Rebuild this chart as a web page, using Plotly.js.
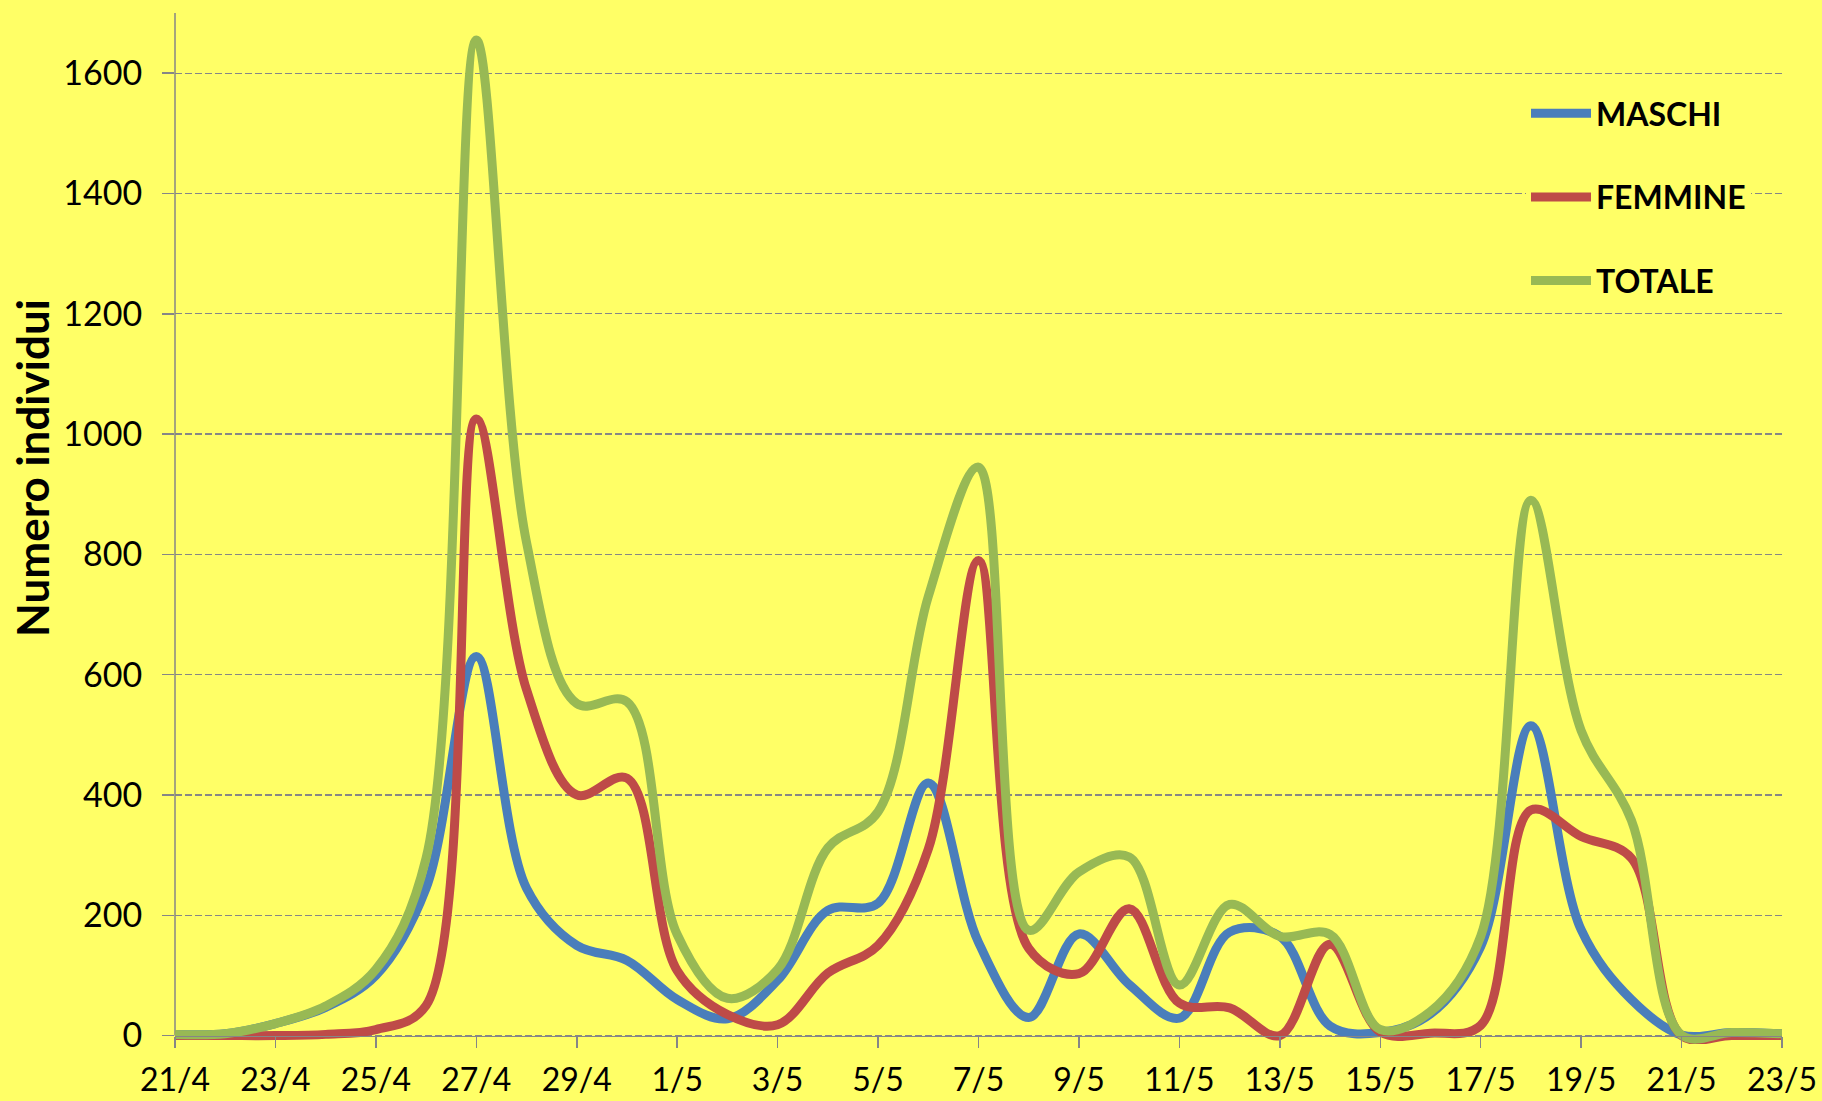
<!DOCTYPE html>
<html>
<head>
<meta charset="utf-8">
<script src="https://cdn.plot.ly/plotly-3.0.1.min.js"></script>
<style>
html,body{margin:0;padding:0;background:#FFFF66;}
#chart{width:1822px;height:1101px;}
</style>
</head>
<body>
<div id="chart"></div>
<script>
const dates = ['21/4','22/4','23/4','24/4','25/4','26/4','27/4','28/4','29/4','30/4',
  '1/5','2/5','3/5','4/5','5/5','6/5','7/5','8/5','9/5','10/5','11/5','12/5','13/5',
  '14/5','15/5','16/5','17/5','18/5','19/5','20/5','21/5','22/5','23/5'];
const maschi  = [2,3,20,47,100,245,630,245,150,125,60,28,92,208,220,420,155,30,169,85,29,172,165,16,5,36,148,515,176,60,1,5,3];
const femmine = [0,0,0,2,10,50,1025,575,400,428,108,35,18,104,150,310,790,145,103,211,54,46,0,152,6,4,17,375,331,295,0,0,0];
const totale  = [2,3,20,49,110,295,1655,820,552,555,168,62,110,312,372,730,945,175,272,297,84,218,165,168,10,40,165,890,507,358,1,5,3];
const seriesNames = ['MASCHI','FEMMINE','TOTALE'];
const seriesColors = ['#4A7EBB','#BE4B48','#98B954'];
const yTicks = [0,200,400,600,800,1000,1200,1400,1600];

const FONT = 'Lato, "Open Sans", "DejaVu Sans", sans-serif';
const axisColor = '#868686';
const yMin = -14, yMax = 1700;

const values = [maschi, femmine, totale];
const traces = values.map((v, i) => ({
  type: 'scatter',
  mode: 'lines',
  x: dates,
  y: v,
  name: seriesNames[i],
  legendgroup: 'g' + i,
  line: {color: seriesColors[i], width: 9, shape: 'spline', smoothing: 1},
  hoverinfo: 'x+y+name'
}));

const layout = {
  width: 1822,
  height: 1101,
  paper_bgcolor: '#FFFF66',
  plot_bgcolor: '#FFFF66',
  margin: {l: 175, r: 40, t: 13, b: 57},
  font: {family: FONT, size: 33, color: '#000000'},
  showlegend: true,
  legend: {
    x: 0.8407, y: 0.9292, xanchor: 'left', yanchor: 'top',
    bgcolor: '#FFFF66', borderwidth: 0,
    font: {family: FONT, size: 32, weight: 700, color: '#000000'},
    tracegroupgap: 39,
    itemwidth: 60,
    traceorder: 'grouped'
  },
  xaxis: {
    type: 'category',
    range: [0, dates.length - 1],
    tickmode: 'linear', tick0: 0, dtick: 2,
    showgrid: false,
    showline: true, linecolor: axisColor, linewidth: 1.5,
    ticks: 'outside', ticklen: 11, tickwidth: 1.5, tickcolor: axisColor,
    anchor: 'free', position: (0 - yMin) / (yMax - yMin),
    ticklabelstandoff: 5,
    tickfont: {family: FONT, size: 32, color: '#000000'},
    zeroline: false, fixedrange: true
  },
  yaxis: {
    range: [yMin, yMax],
    tickmode: 'array', tickvals: yTicks, ticktext: yTicks.map(String),
    showgrid: true, gridcolor: axisColor, gridwidth: 1.3, griddash: '7px,3px',
    showline: false,
    ticks: 'outside', ticklen: 12, tickwidth: 1.5, tickcolor: axisColor,
    ticklabelstandoff: 13,
    tickfont: {family: FONT, size: 34, color: '#000000'},
    zeroline: false, fixedrange: true
  },
  shapes: [{
    type: 'line', xref: 'paper', yref: 'y', x0: 0, x1: 0, y0: 0, y1: yMax,
    line: {color: axisColor, width: 1.5}, layer: 'below'
  }],
  annotations: [{
    text: 'Numero individui',
    xref: 'paper', yref: 'paper',
    x: (32 - 175) / 1607, y: 1 - (468 - 13) / 1031,
    xanchor: 'center', yanchor: 'middle',
    textangle: -90, showarrow: false,
    font: {family: FONT, size: 44, weight: 700, color: '#000000'}
  }]
};

Plotly.newPlot('chart', traces, layout, {displayModeBar: false, staticPlot: true});
</script>
</body>
</html>
